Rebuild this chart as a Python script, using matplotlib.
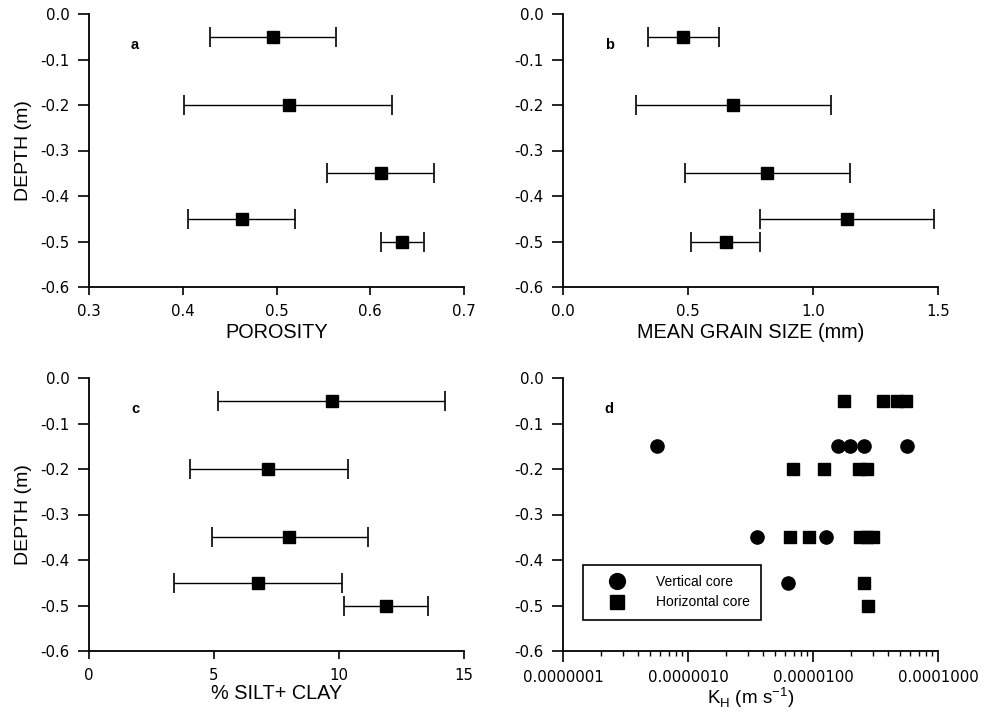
import matplotlib
matplotlib.use("Agg")
import matplotlib.pyplot as plt
from matplotlib.ticker import FixedLocator, FixedFormatter, LogLocator, NullFormatter

plt.rcParams['font.family'] = ['Liberation Sans', 'DejaVu Sans']
plt.rcParams['axes.unicode_minus'] = False

# depths of the samples (m)
depth = [-0.05, -0.2, -0.35, -0.45, -0.5]

# a: porosity, mean with min/max
por_mean = [0.496, 0.513, 0.611, 0.463, 0.634]
por_lo = [0.429, 0.401, 0.554, 0.406, 0.611]
por_hi = [0.563, 0.623, 0.668, 0.520, 0.657]

# b: mean grain size (mm)
grain_mean = [0.48, 0.68, 0.816, 1.136, 0.652]
grain_lo = [0.34, 0.29, 0.488, 0.788, 0.512]
grain_hi = [0.624, 1.072, 1.148, 1.484, 0.788]

# c: % silt + clay
silt_mean = [9.72, 7.17, 8.0, 6.74, 11.88]
silt_lo = [5.17, 4.03, 4.9, 3.39, 10.2]
silt_hi = [14.26, 10.36, 11.16, 10.12, 13.56]

# d: hydraulic conductivity K_H (m/s)
vert_depth = [-0.15, -0.15, -0.15, -0.15, -0.15, -0.35, -0.35, -0.45]
vert_k = [5.6e-7, 1.58e-5, 1.98e-5, 2.56e-5, 5.65e-5, 3.56e-6, 1.27e-5, 6.3e-6]
hor_depth = [-0.05, -0.05, -0.05, -0.05, -0.2, -0.2, -0.2, -0.2,
             -0.35, -0.35, -0.35, -0.35, -0.35, -0.45, -0.5]
hor_k = [1.77e-5, 3.6e-5, 4.7e-5, 5.5e-5, 6.9e-6, 1.22e-5, 2.33e-5, 2.7e-5,
         6.5e-6, 9.3e-6, 2.38e-5, 2.7e-5, 3.0e-5, 2.56e-5, 2.75e-5]

yticks = [0.0, -0.1, -0.2, -0.3, -0.4, -0.5, -0.6]
ytick_labels = ['0.0', '-0.1', '-0.2', '-0.3', '-0.4', '-0.5', '-0.6']

fig = plt.figure(figsize=(9.85, 7.14), dpi=100)
W, H = 985, 714


def make_axes(x0, x1, y0, y1):
    return fig.add_axes([x0 / W, 1 - y1 / H, (x1 - x0) / W, (y1 - y0) / H])


axA = make_axes(89, 464, 14, 287)
axB = make_axes(563, 938, 14, 287)
axC = make_axes(89, 464, 378, 651)
axD = make_axes(563, 938, 378, 651)


def style(ax):
    ax.spines['top'].set_visible(False)
    ax.spines['right'].set_visible(False)
    ax.spines['left'].set_linewidth(1.3)
    ax.spines['bottom'].set_linewidth(1.3)
    ax.tick_params(direction='out', width=1.2, labelsize=10.8, colors='black',
                   labelfontfamily='DejaVu Sans')
    ax.tick_params(axis='y', length=8, pad=6)
    ax.tick_params(axis='x', length=6, pad=6)
    ax.tick_params(which='minor', direction='out', length=3.5, width=1.0)
    ax.set_ylim(-0.6, 0.0)
    ax.yaxis.set_major_locator(FixedLocator(yticks))
    ax.yaxis.set_major_formatter(FixedFormatter(ytick_labels))


def err_panel(ax, mean, lo, hi):
    xerr = [[m - l for m, l in zip(mean, lo)], [h - m for m, h in zip(mean, hi)]]
    ax.errorbar(mean, depth, xerr=xerr, fmt='s', color='black', ms=8.5,
                ecolor='black', elinewidth=1.0, capsize=7, capthick=1.2)


def panel_letter(ax, s):
    ax.text(0.123, 0.886, s, transform=ax.transAxes, fontsize=10.5,
            fontweight='bold', ha='center', va='center')


err_panel(axA, por_mean, por_lo, por_hi)
style(axA)
axA.set_xlim(0.3, 0.7)
axA.set_xticks([0.3, 0.4, 0.5, 0.6, 0.7])
axA.set_xlabel('POROSITY', fontsize=14.3, labelpad=3)
axA.set_ylabel('DEPTH (m)', fontsize=14, labelpad=6)
panel_letter(axA, 'a')

err_panel(axB, grain_mean, grain_lo, grain_hi)
style(axB)
axB.set_xlim(0.0, 1.5)
axB.set_xticks([0.0, 0.5, 1.0, 1.5])
axB.set_xlabel('MEAN GRAIN SIZE (mm)', fontsize=14.3, labelpad=3)
panel_letter(axB, 'b')

err_panel(axC, silt_mean, silt_lo, silt_hi)
style(axC)
axC.set_xlim(0, 15)
axC.set_xticks([0, 5, 10, 15])
axC.set_xlabel('% SILT+ CLAY', fontsize=14.3, labelpad=1)
axC.set_ylabel('DEPTH (m)', fontsize=14, labelpad=6)
panel_letter(axC, 'c')

axD.plot(vert_k, vert_depth, 'o', color='black', ms=9.5, label='Vertical core')
axD.plot(hor_k, hor_depth, 's', color='black', ms=8.5, label='Horizontal core')
axD.set_xscale('log')
style(axD)
axD.set_xlim(1e-7, 1e-4)
axD.xaxis.set_major_locator(FixedLocator([1e-7, 1e-6, 1e-5, 1e-4]))
axD.xaxis.set_major_formatter(FixedFormatter(['0.0000001', '0.0000010', '0.0000100', '0.0001000']))
axD.xaxis.set_minor_locator(LogLocator(base=10, subs=range(2, 10)))
axD.xaxis.set_minor_formatter(NullFormatter())
axD.tick_params(axis='x', which='major', length=8)
axD.set_xlabel('K$_\\mathregular{H}$ (m s$^\\mathregular{-1}$)', fontsize=13.5, labelpad=0)
panel_letter(axD, 'd')
leg = axD.legend(loc='lower left', bbox_to_anchor=(0.053, 0.114), borderaxespad=0,
                 fontsize=10, markerscale=1.2, fancybox=False, framealpha=1,
                 edgecolor='black', handletextpad=1.15, labelspacing=0.45,
                 borderpad=0.75, handlelength=3.4)
leg.get_frame().set_linewidth(1.2)

fig.savefig('out.png', dpi=100)
